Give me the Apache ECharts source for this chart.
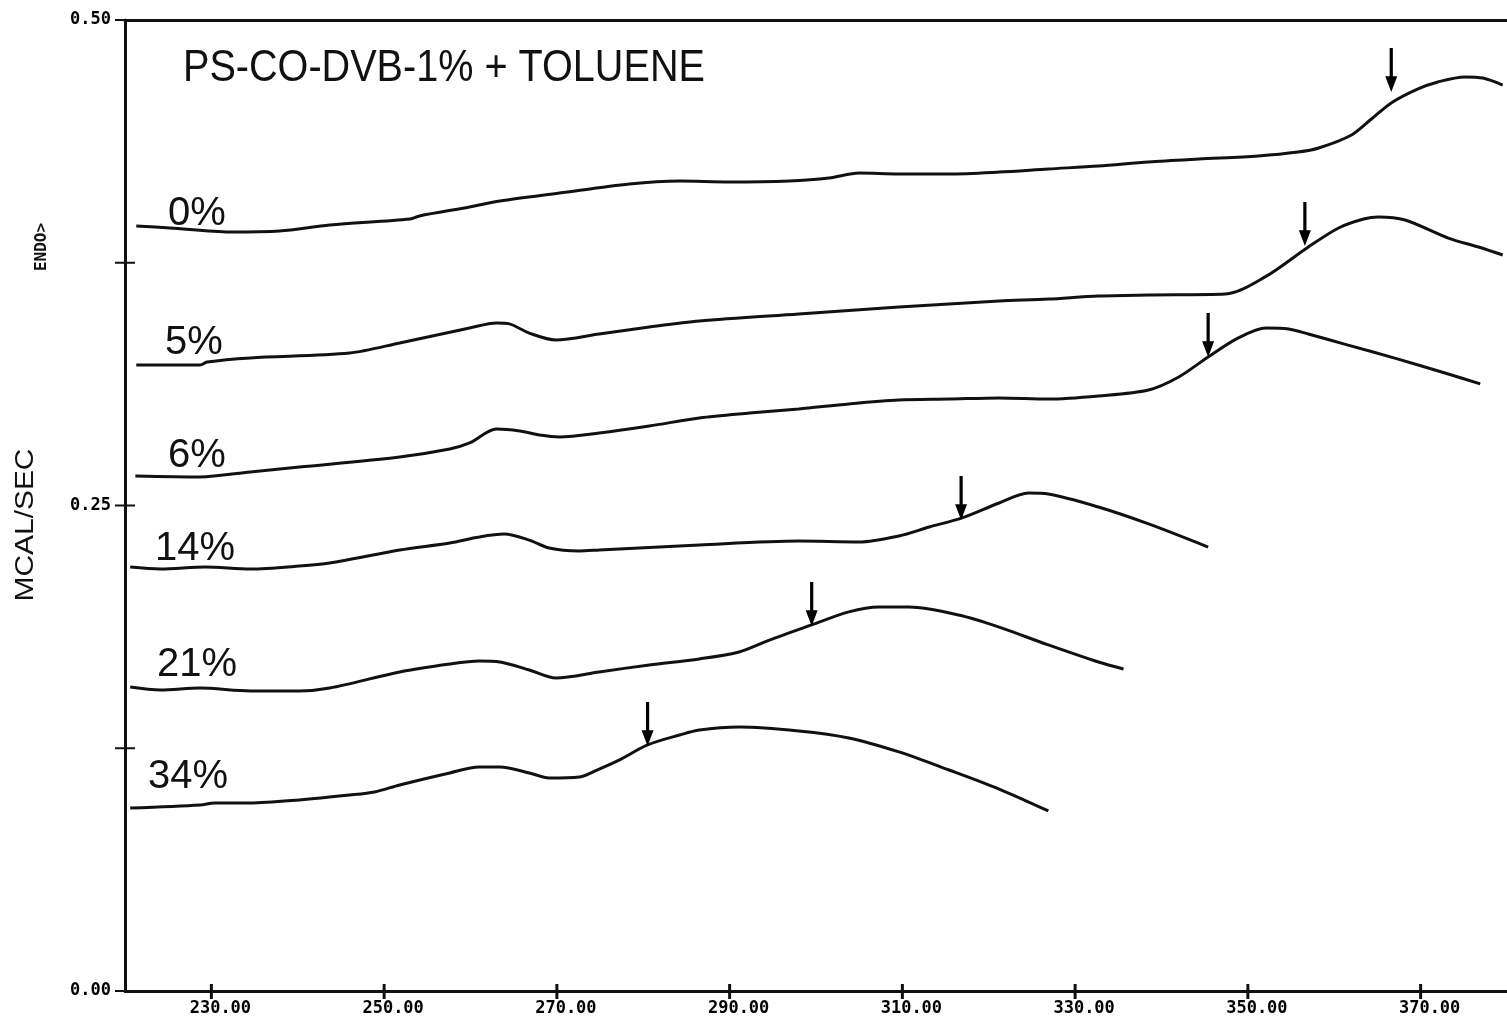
<!DOCTYPE html>
<html>
<head>
<meta charset="utf-8">
<script src="https://cdn.jsdelivr.net/npm/echarts@6/dist/echarts.min.js"></script>
<style>
html,body{margin:0;padding:0;background:#fff;}
#chart{width:1507px;height:1024px;}
</style>
</head>
<body>
<div id="chart"></div>
<script>
// ---- data (temperature, mcal/sec) ----
const T_0  = [221.3,225.2,232.1,237.9,243.7,253.0,254.1,259.9,263.4,270.3,278.4,284.2,289.9,296.9,301.5,305.0,309.6,315.4,321.2,326.9,332.7,338.5,344.3,351.2,355.8,358.2,362.0,364.3,366.6,369.7,372.0,375.1,377.2,379.5];
const Y_0  = [0.3939,0.3929,0.3908,0.3913,0.3944,0.3975,0.3991,0.4037,0.4068,0.4109,0.4156,0.4171,0.4166,0.4171,0.4186,0.4212,0.4207,0.4207,0.4217,0.4233,0.4248,0.4269,0.4284,0.4300,0.4320,0.4341,0.4408,0.4490,0.4573,0.4645,0.4681,0.4707,0.4701,0.4665];

const T_5  = [221.3,228.7,229.5,234.5,246.0,251.8,259.9,263.0,264.5,266.8,269.9,274.9,280.7,286.5,298.0,309.6,315.4,321.2,326.9,332.7,338.5,347.4,352.0,357.0,360.5,363.4,365.1,368.2,373.2,376.7,379.5];
const Y_5  = [0.3223,0.3223,0.3239,0.3260,0.3285,0.3337,0.3414,0.3440,0.3435,0.3388,0.3352,0.3383,0.3419,0.3450,0.3486,0.3522,0.3538,0.3553,0.3563,0.3579,0.3584,0.3589,0.3677,0.3831,0.3929,0.3975,0.3986,0.3970,0.3877,0.3831,0.3790];

const T_6  = [221.2,228.7,234.5,240.2,251.8,257.6,259.9,263.0,265.7,268.0,270.3,274.9,280.7,286.5,292.3,298.0,303.8,309.6,315.4,321.2,326.9,332.7,338.5,342.0,345.4,348.9,352.1,354.7,357.0,361.6,367.4,373.2,376.9];
const Y_6  = [0.2652,0.2647,0.2673,0.2698,0.2750,0.2791,0.2822,0.2894,0.2884,0.2863,0.2853,0.2873,0.2909,0.2951,0.2976,0.2997,0.3023,0.3043,0.3048,0.3054,0.3048,0.3064,0.3095,0.3162,0.3265,0.3363,0.3414,0.3409,0.3383,0.3326,0.3254,0.3177,0.3126];

const T_14 = [220.6,224.1,229.3,234.5,240.2,243.7,251.8,257.6,261.0,263.9,266.8,269.1,272.6,274.9,286.5,298.0,305.0,309.6,313.1,316.9,321.2,324.6,326.9,332.7,338.5,345.4];
const Y_14 = [0.2183,0.2173,0.2183,0.2173,0.2188,0.2204,0.2271,0.2307,0.2338,0.2353,0.2322,0.2281,0.2266,0.2271,0.2297,0.2317,0.2312,0.2343,0.2389,0.2436,0.2513,0.2564,0.2559,0.2492,0.2405,0.2286];

const T_21 = [220.6,224.1,228.7,234.5,240.2,243.7,251.8,257.6,261.0,263.4,266.8,269.9,274.9,280.7,286.5,291.1,294.6,299.5,303.8,307.3,310.8,316.5,321.2,326.9,332.7,335.6];
const Y_21 = [0.1565,0.1550,0.1560,0.1545,0.1545,0.1560,0.1643,0.1684,0.1699,0.1694,0.1653,0.1612,0.1643,0.1679,0.1710,0.1746,0.1807,0.1885,0.1952,0.1977,0.1977,0.1936,0.1874,0.1782,0.1694,0.1658];

const T_34 = [220.6,228.7,230.4,234.5,240.2,246.0,248.9,251.8,257.6,261.0,263.4,266.8,269.1,272.6,274.9,277.2,280.5,284.2,286.5,291.1,298.0,303.8,309.6,315.4,321.2,326.9];
const Y_34 = [0.0942,0.0958,0.0968,0.0968,0.0984,0.1009,0.1025,0.1061,0.1123,0.1153,0.1153,0.1123,0.1097,0.1102,0.1143,0.1189,0.1267,0.1318,0.1344,0.1359,0.1339,0.1303,0.1231,0.1138,0.1040,0.0927];

// arrow tips (transition markers)
const ARROW_T = [366.6, 356.6, 345.4, 316.8, 299.5, 280.5];
const ARROW_Y = [0.4629, 0.3836, 0.3265, 0.2425, 0.1880, 0.1262];

const CURVE_LABELS = ['0%','5%','6%','14%','21%','34%'];
const X_TICKS = [230,250,270,290,310,330,350,370];
const Y_TICKS = [0,0.125,0.25,0.375,0.5];
const Y_LABELS = [0,0.25,0.5];
const TITLE = 'PS-CO-DVB-1% + TOLUENE';
const Y_TITLE = 'MCAL/SEC';
const Y_SUB = 'ENDO>';

const X_MIN = 220, X_MAX = 380, Y_MIN = 0, Y_MAX = 0.5;

const zip = (a,b) => a.map((v,i)=>[v,b[i]]);
const curves = [[T_0,Y_0],[T_5,Y_5],[T_6,Y_6],[T_14,Y_14],[T_21,Y_21],[T_34,Y_34]];

const INK = '#111';
const tickFont = {fontFamily:'DejaVu Sans Mono', fontWeight:'bold', fontSize:17, color:'#000'};

const chart = echarts.init(document.getElementById('chart'), null, {renderer:'canvas'});

const series = curves.map((c,i)=>({
  type:'line', data: zip(c[0],c[1]), showSymbol:false, smooth:0.3,
  lineStyle:{color:INK, width:3}, silent:true, z:3
}));
series.push({
  type:'scatter', data: zip(ARROW_T, ARROW_Y),
  symbol:'path://M4.4,0 L7.6,0 L7.6,27 L12,27 L6,42 L0,27 L4.4,27 Z',
  symbolSize:[12,44], symbolOffset:[0,'-50%'], symbolKeepAspect:false,
  itemStyle:{color:'#000', opacity:1}, silent:true, z:4
});
// crossing tick marks on the x axis
series.push({
  type:'custom', data: X_TICKS.map(v=>[v, Y_MIN]), clip:false, silent:true, z:5,
  encode:{x:0, y:1},
  renderItem:(params, api)=>{
    const p = api.coord([api.value(0), api.value(1)]);
    return {type:'line', shape:{x1:p[0], y1:p[1]-7, x2:p[0], y2:p[1]+8}, style:{stroke:INK, lineWidth:3}};
  }
});
// crossing tick marks on the y axis
series.push({
  type:'custom', data: Y_TICKS.map(v=>[X_MIN, v]), clip:false, silent:true, z:5,
  encode:{x:0, y:1},
  renderItem:(params, api)=>{
    const p = api.coord([api.value(0), api.value(1)]);
    return {type:'line', shape:{x1:p[0]-10, y1:p[1], x2:p[0]+10, y2:p[1]}, style:{stroke:INK, lineWidth:2}};
  }
});

// label positions next to start of each curve
const labelPos = [[168,214],[165,343],[168,456],[155,549],[157,665],[148,777]];
const graphics = [
  {type:'text', left:183, top:47, scaleX:0.9, style:{text:TITLE, font:'44px "Liberation Sans"', fill:INK}},
  {type:'text', x:26, y:525, rotation:Math.PI/2, scaleX:1.15, style:{text:Y_TITLE, font:'26px "Liberation Sans"', fill:INK, align:'center', verticalAlign:'middle'}},
  {type:'text', x:42, y:247, rotation:Math.PI/2, style:{text:Y_SUB, font:'bold 16px "DejaVu Sans Mono"', fill:INK, align:'center', verticalAlign:'middle'}}
];
CURVE_LABELS.forEach((t,i)=>{
  graphics.push({type:'text', x:labelPos[i][0], y:labelPos[i][1], style:{text:t, font:'40px "Liberation Sans"', fill:INK, verticalAlign:'middle'}});
});

chart.setOption({
  animation:false,
  backgroundColor:'#fff',
  grid:{left:125, right:0, top:20, bottom:33, containLabel:false},
  xAxis:[
    {type:'value', min:X_MIN, max:X_MAX, position:'bottom',
     axisLine:{show:true, onZero:false, lineStyle:{color:INK, width:3}},
     axisTick:{show:false},
     axisLabel:Object.assign({show:true, customValues:X_TICKS, margin:9, padding:[0,0,0,18],
       formatter:v=>v.toFixed(2)}, tickFont),
     splitLine:{show:false}},
    {type:'value', min:X_MIN, max:X_MAX, position:'top',
     axisLine:{show:true, onZero:false, lineStyle:{color:INK, width:3}},
     axisTick:{show:false}, axisLabel:{show:false}, splitLine:{show:false}}
  ],
  yAxis:[
    {type:'value', min:Y_MIN, max:Y_MAX, position:'left',
     axisLine:{show:true, onZero:false, lineStyle:{color:INK, width:3}},
     axisTick:{show:false},
     axisLabel:Object.assign({show:true, customValues:Y_LABELS, margin:14,
       formatter:v=>v.toFixed(2)}, tickFont),
     splitLine:{show:false}}
  ],
  series: series,
  graphic: graphics
});
</script>
</body>
</html>
